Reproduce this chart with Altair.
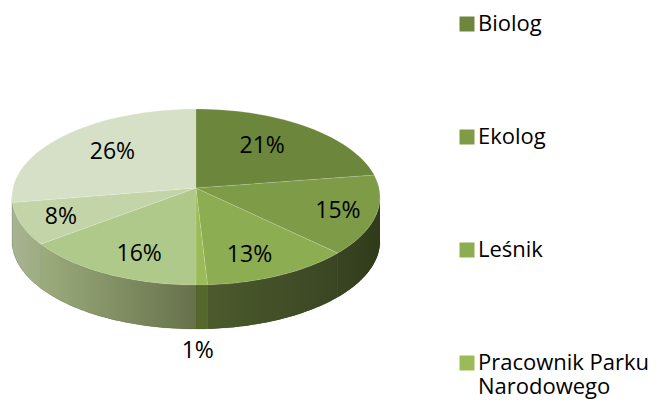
import altair as alt
import pandas as pd

# ---- data ----
categories = ["Biolog", "Ekolog", "Leśnik", "Pracownik Parku Narodowego",
              "Kategoria 5", "Kategoria 6", "Kategoria 7"]
percent = [21, 15, 13, 1, 16, 8, 26]
legend_shown = categories[:4]

# ---- styles ----
top_colors = ["#6C863C", "#7E9B48", "#8DAD52", "#9BBB59", "#AEC98A", "#C3D5A8", "#D6E0C6"]
wall_solid = ["#4F6229", "#34401F", "#44522A", "#56672E", "#84956A", "#A3B08C", "#AAB59A"]
wall_grad = [("#4F6229", "#4F6229"), ("#3A4622", "#2F3A1A"), ("#4C5A2C", "#3A4623"),
             ("#56672E", "#56672E"), ("#9CAC7C", "#66714B"), ("#A8B390", "#9DAC82"),
             ("#AAB59A", "#AAB59A")]
FONT = "Open Sans"

# geometry of the tilted pie (page pixel space)
CX, CY, RX, RY = 196, 197, 184, 88
VX, VY = 196, 188
D = 44
N = 40

df = pd.DataFrame({"cat": categories, "pct": percent, "i": list(range(len(categories)))})

X = lambda f: alt.X(f"{f}:Q", scale=alt.Scale(domain=[8, 656], nice=False, zero=False), axis=None)
Y = lambda f: alt.Y(f"{f}:Q", stack=None,
                    scale=alt.Scale(domain=[8, 401], nice=False, zero=False, reverse=True), axis=None)

base = (
    alt.Chart(df)
    .transform_window(cum="sum(pct)", sort=[alt.SortField("i")], frame=[None, 0])
    .transform_joinaggregate(total="sum(pct)")
    .transform_calculate(
        a0="2*PI*(datum.cum-datum.pct)/datum.total",
        a1="2*PI*datum.cum/datum.total",
    )
    .transform_calculate(mid="(datum.a0+datum.a1)/2")
)

# side wall polygon: top arc forward, bottom arc backward (front half only)
wall_base = (
    base.transform_calculate(w0="max(datum.a0, PI/2)", w1="min(datum.a1, 3*PI/2)")
    .transform_filter("datum.w1 > datum.w0")
    .transform_calculate(t=f"sequence(0, {2 * N + 2})")
    .transform_flatten(["t"])
    .transform_calculate(
        a=f"datum.t <= {N} ? datum.w0+(datum.w1-datum.w0)*datum.t/{N} : datum.w1-(datum.w1-datum.w0)*(datum.t-{N + 1})/{N}"
    )
    .transform_calculate(
        px=f"{CX}+{RX}*sin(datum.a)",
        py=f"{CY}-{RY}*cos(datum.a) + (datum.t <= {N} ? 0 : {D})",
    )
)

walls_solid = wall_base.mark_line(strokeWidth=0).encode(
    x=X("px"), y=Y("py"),
    fill=alt.Fill("cat:N", scale=alt.Scale(domain=categories, range=wall_solid), legend=None),
    detail="cat:N", order="t:Q",
)

walls_grad = []
for k, cat in enumerate(categories):
    c0, c1 = wall_grad[k]
    walls_grad.append(
        wall_base.transform_filter(alt.datum.cat == cat)
        .mark_line(
            stroke="#2A3418", strokeWidth=0.4, strokeOpacity=0.35,
            fill=alt.Gradient(
                gradient="linear",
                stops=[alt.GradientStop(color=c0, offset=0), alt.GradientStop(color=c1, offset=1)],
                x1=0, x2=1, y1=0, y2=0,
            ),
        )
        .encode(x=X("px"), y=Y("py"), order="t:Q")
    )

label_expr = ("length(datum.label) > 18 ? [slice(datum.label, 0, lastindexof(datum.label, ' ')), "
              "slice(datum.label, lastindexof(datum.label, ' ') + 1)] : datum.label")

top = (
    base.transform_calculate(t=f"sequence(-1, {N + 1})")
    .transform_flatten(["t"])
    .transform_calculate(a=f"datum.a0+(datum.a1-datum.a0)*datum.t/{N}")
    .transform_calculate(
        px=f"datum.t < 0 ? {VX} : {CX}+{RX}*sin(datum.a)",
        py=f"datum.t < 0 ? {VY} : {CY}-{RY}*cos(datum.a)",
    )
    .mark_line(stroke="white", strokeWidth=0.6, strokeOpacity=0.3)
    .encode(
        x=X("px"),
        y=Y("py"),
        fill=alt.Fill(
            "cat:N",
            scale=alt.Scale(domain=categories, range=top_colors),
            sort=categories,
            legend=alt.Legend(
                title=None, orient="none", legendX=448, legendY=5, padding=0,
                values=legend_shown, symbolType="square", symbolSize=225,
                symbolStrokeWidth=0, symbolOpacity=1,
                labelFont=FONT, labelFontSize=22, labelColor="black",
                labelOffset=0, labelLimit=400, rowPadding=91, labelExpr=label_expr,
            ),
        ),
        detail="cat:N",
        order="t:Q",
    )
)

labels = (
    base.transform_calculate(s="sin(datum.mid)", c="cos(datum.mid)",
                             small="datum.pct/datum.total < 0.03")
    .transform_calculate(
        lx=f"datum.small ? {CX}+{RX}*datum.s*0.3 : {CX}+{RX}*datum.s*(0.55+0.26*pow(datum.s,4)+0.1*pow(max(0,-datum.c),2))",
        ly=f"datum.small ? {CY}-{RY}*datum.c+{D}+22 : {CY}-{RY}*datum.c*0.74",
        txt="datum.pct + '%'",
    )
    .mark_text(font=FONT, fontSize=23, color="black")
    .encode(x=X("lx"), y=Y("ly"), text="txt:N")
)

chart = (
    alt.layer(walls_solid, *walls_grad, top, labels)
    .resolve_scale(fill="independent")
    .properties(width=648, height=393, padding=0, autosize="none", background="white")
    .configure_view(stroke=None)
)

chart.save("out.html", embed_options={"renderer": "svg", "actions": False})
